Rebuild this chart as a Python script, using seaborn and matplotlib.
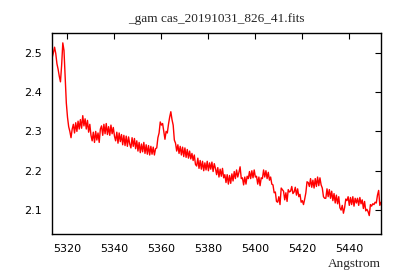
import numpy as np
import pandas as pd
import seaborn as sns
import matplotlib
matplotlib.use("Agg")
import matplotlib.pyplot as plt

title = "_gam cas_20191031_826_41.fits"
wave_start = 5313.0
wave_step = 0.5

# flux, 0.5 A per sample starting at 5313.0
flux = [
    2.470, 2.488, 2.500, 2.514, 2.498, 2.472, 2.458, 2.440, 2.426, 2.468,
    2.525, 2.506, 2.442, 2.372, 2.336, 2.312, 2.300, 2.284, 2.306, 2.318,
    2.296, 2.322, 2.300, 2.326, 2.306, 2.330, 2.308, 2.340, 2.314, 2.332,
    2.306, 2.328, 2.298, 2.318, 2.290, 2.276, 2.298, 2.272, 2.300, 2.278,
    2.296, 2.272, 2.306, 2.314, 2.290, 2.318, 2.294, 2.320, 2.292, 2.312,
    2.290, 2.316, 2.294, 2.310, 2.288, 2.276, 2.298, 2.270, 2.296, 2.274,
    2.292, 2.266, 2.290, 2.264, 2.288, 2.262, 2.286, 2.268, 2.258, 2.284,
    2.262, 2.282, 2.256, 2.276, 2.250, 2.272, 2.246, 2.268, 2.248, 2.272,
    2.244, 2.266, 2.242, 2.264, 2.240, 2.262, 2.242, 2.260, 2.240, 2.256,
    2.258, 2.284, 2.296, 2.324, 2.316, 2.320, 2.300, 2.280, 2.300, 2.296,
    2.318, 2.336, 2.350, 2.330, 2.316, 2.278, 2.270, 2.250, 2.266, 2.244,
    2.262, 2.240, 2.260, 2.236, 2.258, 2.234, 2.254, 2.232, 2.250, 2.230,
    2.244, 2.226, 2.240, 2.216, 2.212, 2.232, 2.206, 2.226, 2.204, 2.224,
    2.200, 2.220, 2.202, 2.224, 2.200, 2.220, 2.204, 2.222, 2.198, 2.218,
    2.206, 2.190, 2.208, 2.184, 2.204, 2.186, 2.206, 2.182, 2.190, 2.170,
    2.190, 2.166, 2.188, 2.168, 2.192, 2.174, 2.198, 2.180, 2.202, 2.184,
    2.196, 2.210, 2.180, 2.182, 2.164, 2.184, 2.166, 2.186, 2.180, 2.198,
    2.180, 2.200, 2.182, 2.202, 2.184, 2.186, 2.166, 2.184, 2.162, 2.182,
    2.180, 2.202, 2.184, 2.200, 2.180, 2.196, 2.176, 2.184, 2.166, 2.164,
    2.144, 2.146, 2.122, 2.120, 2.134, 2.114, 2.156, 2.152, 2.148, 2.126,
    2.144, 2.122, 2.152, 2.146, 2.148, 2.160, 2.142, 2.146, 2.158, 2.138,
    2.154, 2.134, 2.140, 2.120, 2.124, 2.114, 2.128, 2.144, 2.172, 2.170,
    2.160, 2.180, 2.158, 2.176, 2.156, 2.180, 2.160, 2.184, 2.162, 2.182,
    2.164, 2.156, 2.134, 2.130, 2.130, 2.154, 2.134, 2.152, 2.130, 2.148,
    2.124, 2.142, 2.118, 2.138, 2.116, 2.134, 2.106, 2.100, 2.112, 2.092,
    2.106, 2.128, 2.124, 2.134, 2.112, 2.132, 2.114, 2.134, 2.110, 2.130,
    2.118, 2.130, 2.112, 2.132, 2.116, 2.126, 2.104, 2.122, 2.098, 2.102,
    2.096, 2.086, 2.114, 2.110, 2.116, 2.114, 2.120, 2.118, 2.138, 2.150,
    2.112, 2.120, 2.110,
]

x_ticks = [5320, 5340, 5360, 5380, 5400, 5420, 5440]
y_ticks = [2.1, 2.2, 2.3, 2.4, 2.5]

wave = wave_start + wave_step * np.arange(len(flux))
df = pd.DataFrame({"wave": wave, "flux": flux})

sns.set_theme(style="white")
plt.rcParams["font.family"] = ["DejaVu Sans"]

fig = plt.figure(figsize=(4, 2.8), dpi=100)
ax = fig.add_axes([0.13, 0.164, 0.8225, 0.718])

sns.lineplot(data=df, x="wave", y="flux", color="#ff0000", linewidth=1.0,
             estimator=None, sort=False, ax=ax)

ax.set_xlim(5313.4, 5453.5)
ax.set_ylim(2.039, 2.55)
ax.set_xticks(x_ticks)
ax.set_yticks(y_ticks)
ax.set_xticklabels([str(t) for t in x_ticks])
ax.set_yticklabels([f"{t:.1f}" for t in y_ticks])
ax.tick_params(direction="in", length=4, width=0.8, top=True, right=True,
               labelsize=8, colors="black", pad=7)
for s in ax.spines.values():
    s.set_color("black")
    s.set_linewidth(1.0)

ax.set_ylabel("")
ax.set_xlabel("")
ax.set_title(title, family="Liberation Serif", fontsize=9.5, pad=8)
fig.text(0.9525, 0.045, "Angstrom", family="Liberation Serif", fontsize=9.5,
         ha="right", va="baseline")

fig.savefig("out.png", dpi=100)
